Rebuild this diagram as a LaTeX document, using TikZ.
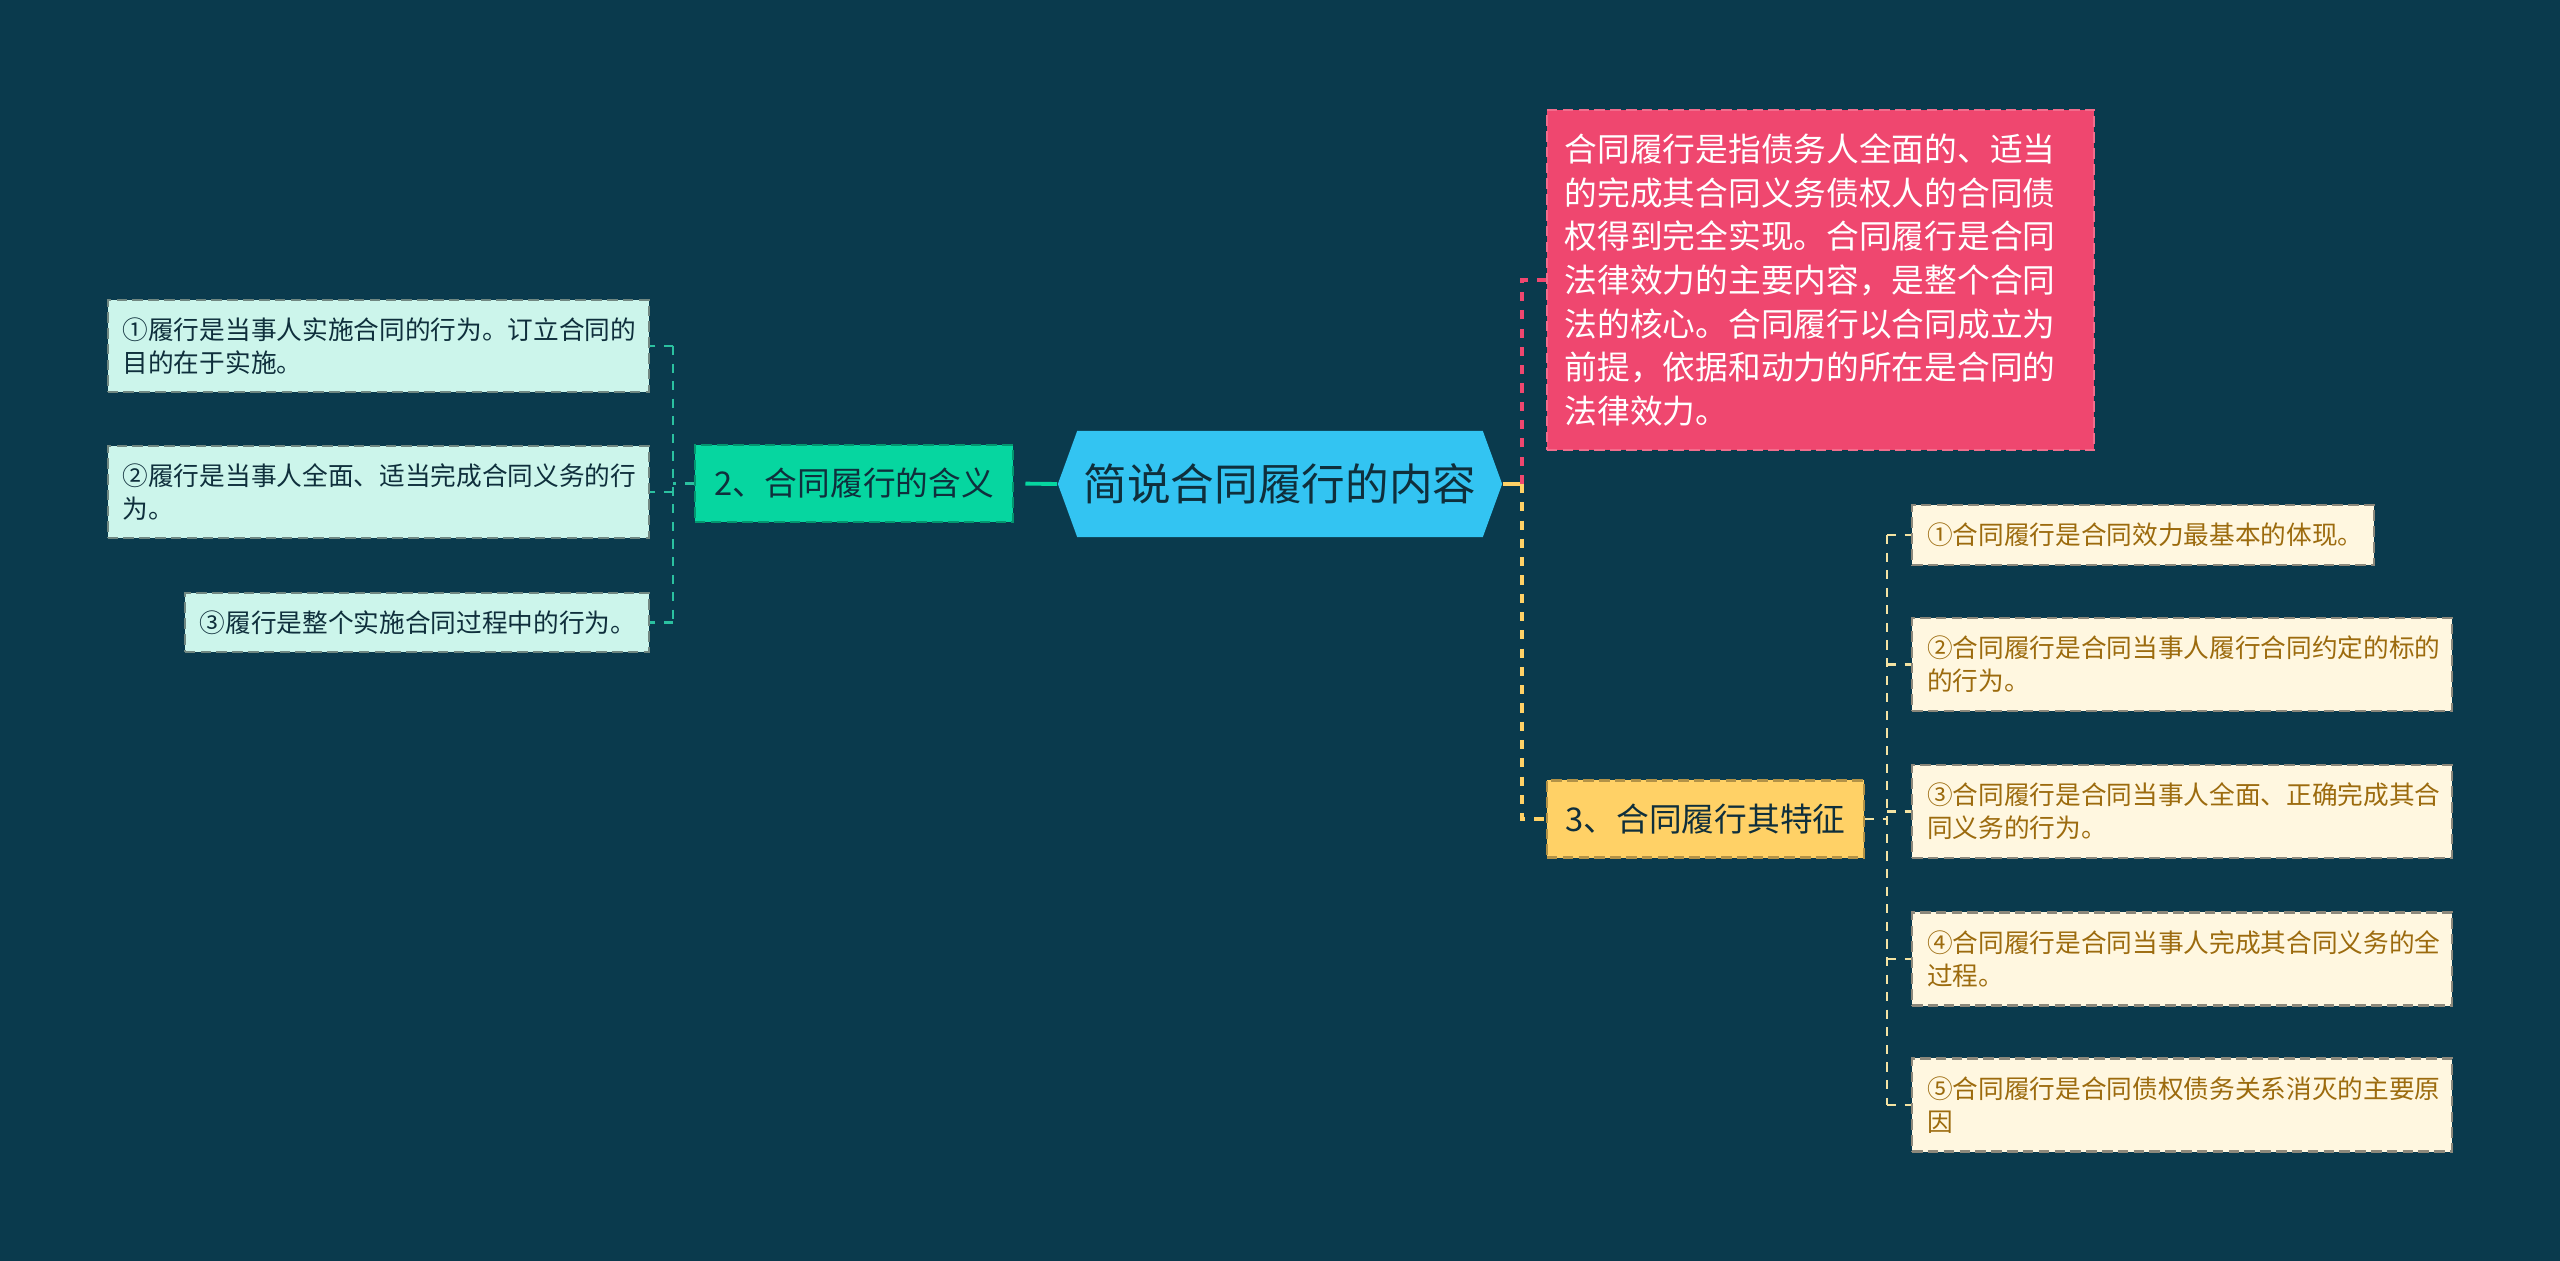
\documentclass[tikz,border=0pt]{standalone}
\usepackage{fontspec}
\setmainfont{Noto Sans CJK SC}
\usepackage{tikz}
\usetikzlibrary{shapes.symbols, positioning}
\definecolor{bgteal}{HTML}{0A3A4D}
\definecolor{rootblue}{HTML}{33C4F2}
\definecolor{darktext}{HTML}{0F2F3C}
\definecolor{pinkfill}{HTML}{EF476F}
\definecolor{greenfill}{HTML}{06D6A0}
\definecolor{yellowfill}{HTML}{FFD166}
\definecolor{mintfill}{HTML}{CCF5EB}
\definecolor{creamfill}{HTML}{FFF7E0}
\definecolor{goldtext}{HTML}{9C6B0E}
\definecolor{mintline}{HTML}{2BC1A0}
\definecolor{paleline}{HTML}{F3E3A3}

\tikzset{
  box/.style={rectangle, dashed, dash pattern=on 3pt off 1.5pt, line width=0.6pt,
    inner xsep=0.15cm, inner ysep=0pt, align=left},
  subbox/.style={box, align=center, inner xsep=0pt, minimum height=0.77cm,
    font=\fontsize{9.3pt}{11pt}\selectfont, text=darktext},
  lleaf/.style={box, fill=mintfill, draw=mintfill!55!black, text=darktext,
    font=\fontsize{7.3pt}{9.4pt}\selectfont},
  rleaf/.style={box, fill=creamfill, draw=creamfill!55!black, text=goldtext,
    font=\fontsize{7.3pt}{9.4pt}\selectfont},
  link/.style={line width=1.1pt, dash pattern=on 2.6pt off 2.6pt},
  leaflink/.style={line width=0.7pt, dash pattern=on 2.6pt off 2.4pt}
}

\begin{document}
\begin{tikzpicture}[x=0.01cm, y=-0.01cm]
  % Hintergrund
  \fill[bgteal] (0,0) rectangle (2560,1261);

  % Hauptthema
  \node[signal, signal to=west and east, signal pointer angle=140, fill=rootblue,
    minimum width=4.44cm, minimum height=1.06cm, inner sep=0pt, text=darktext,
    font=\fontsize{12.4pt}{14pt}\selectfont] (root) at (1280,484) {简说合同履行的内容};

  % Zweige
  \node[subbox, fill=greenfill, draw=greenfill!70!black, minimum width=3.18cm]
    (sub1) at (854,483.5) {2、合同履行的含义};
  \node[subbox, fill=yellowfill, draw=yellowfill!70!black, minimum width=3.17cm]
    (sub2) at (1705.5,819) {3、合同履行其特征};
  \node[box, fill=pinkfill, draw=pinkfill!80!white, text=white, text width=5.11cm,
    inner xsep=0.18cm, minimum height=3.40cm, font=\fontsize{9.3pt}{12.4pt}\selectfont]
    (pink) at (1820.5,280) {合同履行是指债务人全面的、适当\\
      的完成其合同义务债权人的合同债\\
      权得到完全实现。合同履行是合同\\
      法律效力的主要内容，是整个合同\\
      法的核心。合同履行以合同成立为\\
      前提，依据和动力的所在是合同的\\
      法律效力。};

  % linke Blaetter
  \node[lleaf, anchor=east, text width=5.11cm, minimum height=0.92cm] (l1) at (650,346)
    {①履行是当事人实施合同的行为。订立合同的\\目的在于实施。};
  \node[lleaf, anchor=east, text width=5.11cm, minimum height=0.92cm] (l2) at (650,492)
    {②履行是当事人全面、适当完成合同义务的行\\为。};
  \node[lleaf, anchor=east, text width=4.34cm, minimum height=0.59cm] (l3) at (650,622.5)
    {③履行是整个实施合同过程中的行为。};

  % rechte Blaetter
  \foreach \n/\y/\w/\h/\t in {
      r1/535/4.32cm/0.60cm/{①合同履行是合同效力最基本的体现。},
      r2/664.5/5.10cm/0.93cm/{②合同履行是合同当事人履行合同约定的标的\\的行为。},
      r3/811.5/5.10cm/0.93cm/{③合同履行是合同当事人全面、正确完成其合\\同义务的行为。},
      r4/959/5.10cm/0.93cm/{④合同履行是合同当事人完成其合同义务的全\\过程。},
      r5/1105/5.10cm/0.93cm/{⑤合同履行是合同债权债务关系消灭的主要原\\因}} {
    \node[rleaf, anchor=west, text width=\w, minimum height=\h] (\n) at (1911,\y) {\t};
  }

  % Verbindungen
  \coordinate (jr) at (1522,484);
  \coordinate (jl) at (673,483.5);
  \coordinate (jy) at (1887,819);
  \draw[greenfill, line width=1.1pt, dash pattern=on 9pt off 4pt] (root.west) -- (sub1.east);
  \draw[yellowfill, line width=1.1pt] (root.east) -- (jr);
  \draw[pinkfill, link] (jr) |- (pink.west);
  \draw[yellowfill, link] (jr) |- (sub2.west);

  \draw[mintline, leaflink] (sub1.west) -- (jl);
  \draw[mintline, leaflink] (jl |- l1.east) -- (jl |- l3.east);
  \foreach \n in {l1,l2,l3}
    \draw[mintline, leaflink] (jl |- \n.east) -- (\n.east);

  \draw[paleline, leaflink] (sub2.east) -- (jy);
  \draw[paleline, leaflink] (jy |- r1.west) -- (jy |- r5.west);
  \foreach \n in {r1,r2,r3,r4,r5}
    \draw[paleline, leaflink] (jy |- \n.west) -- (\n.west);
\end{tikzpicture}
\end{document}
